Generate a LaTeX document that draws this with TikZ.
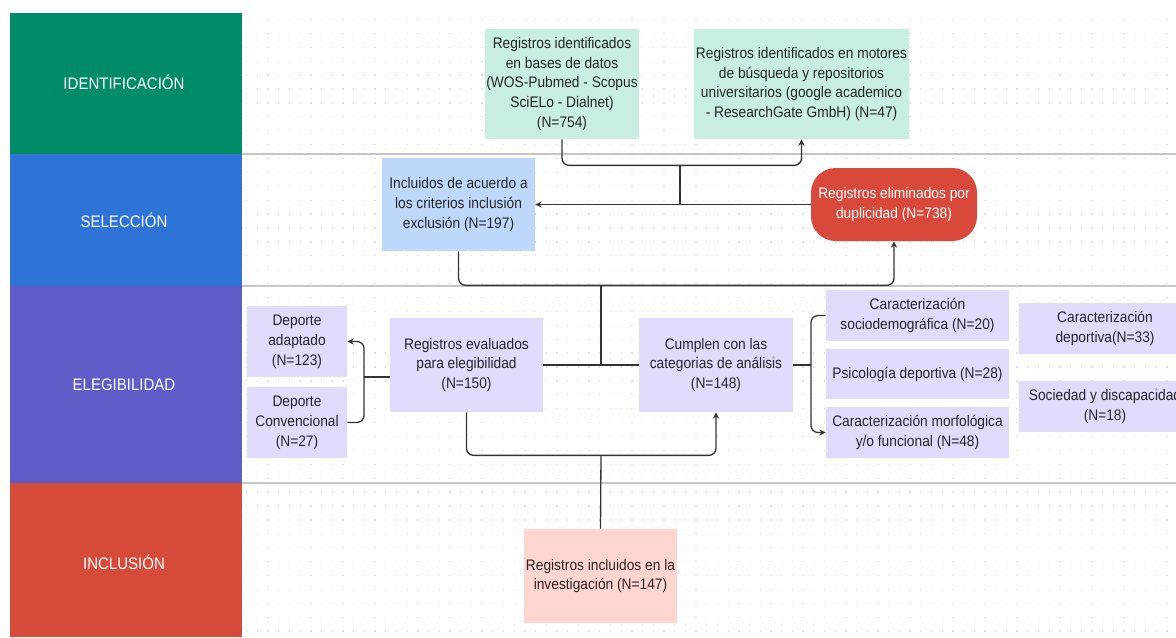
\documentclass[tikz,border=0pt]{standalone}
\usepackage{fontspec}
\setmainfont[FakeStretch=0.9]{Liberation Sans}
\usetikzlibrary{arrows.meta}
\definecolor{idgreen}{HTML}{008C67}
\definecolor{selblue}{HTML}{2E74D7}
\definecolor{elegpurple}{HTML}{5F5BC7}
\definecolor{inclred}{HTML}{D64A3A}
\definecolor{mint}{HTML}{C8EDE3}
\definecolor{skyfill}{HTML}{BDD8FA}
\definecolor{lavender}{HTML}{DEDBFC}
\definecolor{pinkfill}{HTML}{FFD5D0}
\definecolor{elimred}{HTML}{D9493B}
\definecolor{linkgray}{HTML}{333333}
\definecolor{sepgray}{HTML}{C6C6C6}
\definecolor{dotgray}{HTML}{E0E0E0}

\begin{document}
\begin{tikzpicture}[x=0.02cm,y=-0.02cm,
    box/.style={inner sep=0pt, align=center, text=black!85,
      font=\fontsize{8.7}{11.34}\selectfont},
    boxsize/.style 2 args={minimum width=#1*0.02cm, minimum height=#2*0.02cm},
    lanetext/.style={text=white, font=\fontsize{9.5}{11}\selectfont},
    link/.style={draw=linkgray, line width=0.75pt},
    tip/.style={-{Stealth[length=3.6pt,width=3.6pt]}}]
    \useasboundingbox (0,0) rectangle (1176,637);
    \clip (0,0) rectangle (1176,637);
    \fill[white] (0,0) rectangle (1176,637);
    \foreach \i in {0,...,87}
        \foreach \j in {0,...,45}
            \fill[dotgray] (246+\i*10.7,18.8+\j*13.9) rectangle ++(1.3,1.3);
    \fill[idgreen] (10,13) rectangle (242,154);
    \fill[selblue] (10,154) rectangle (242,286);
    \fill[elegpurple] (10,286) rectangle (242,483);
    \fill[inclred] (10,483) rectangle (242,637);
    \draw[sepgray, line width=0.8pt] (242,154) -- (1176,154);
    \draw[sepgray, line width=0.8pt] (242,286) -- (1176,286);
    \draw[sepgray, line width=0.8pt] (242,483) -- (1176,483);
    \node[lanetext] (lid) at (124,82) {IDENTIFICACIÓN};
    \node[lanetext] (lsel) at (124,220) {SELECCIÓN};
    \node[lanetext] (leleg) at (124,385) {ELEGIBILIDAD};
    \node[lanetext] (lincl) at (124,562) {INCLUSIÓN};

    \node[box, fill=mint, boxsize={154}{110}] (db) at (562,84)
        {Registros identificados\\en bases de datos\\(WOS-Pubmed - Scopus\\SciELo - Dialnet)\\(N=754)};
    \node[box, fill=mint, boxsize={215}{110}] (mot) at (801.5,84)
        {Registros identificados en motores\\de búsqueda y repositorios\\universitarios (google academico\\- ResearchGate GmbH) (N=47)};
    \node[box, fill=skyfill, boxsize={153}{93}] (incl) at (458.5,204.5)
        {Incluidos de acuerdo a\\los criterios inclusión\\exclusión (N=197)};
    \node[box, fill=elimred, text=white, rounded corners=14pt, boxsize={166}{73}] (elim) at (894,204.5)
        {Registros eliminados por\\duplicidad (N=738)};
    \node[box, fill=lavender, boxsize={100}{71}] (adapt) at (297,341.5)
        {Deporte\\adaptado\\(N=123)};
    \node[box, fill=lavender, boxsize={100}{71}] (conv) at (297,422.5)
        {Deporte\\Convencional\\(N=27)};
    \node[box, fill=lavender, boxsize={153}{94}] (eval) at (466.5,365)
        {Registros evaluados\\para elegibilidad\\(N=150)};
    \node[box, fill=lavender, boxsize={154}{94}] (cump) at (716,365)
        {Cumplen con las\\categorias de análisis\\(N=148)};
    \node[box, fill=lavender, boxsize={183}{51}] (socio) at (917.5,315.5)
        {Caracterización\\sociodemográfica (N=20)};
    \node[box, fill=lavender, boxsize={183}{50}] (psico) at (917.5,374)
        {Psicología deportiva (N=28)};
    \node[box, fill=lavender, boxsize={183}{51}] (morfo) at (917.5,432.5)
        {Caracterización morfológica\\y/o funcional (N=48)};
    \node[box, fill=lavender, boxsize={172}{51}] (dep) at (1105,328.5)
        {Caracterización\\deportiva(N=33)};
    \node[box, fill=lavender, boxsize={172}{51}] (socd) at (1105,406.5)
        {Sociedad y discapacidad\\(N=18)};
    \node[box, fill=pinkfill, boxsize={153}{94}] (inv) at (600.5,576)
        {Registros incluidos en la\\investigación (N=147)};

    \coordinate (jtop) at (680,165);
    \coordinate (jmid) at (601,285);
    \coordinate (jleft) at (364,377);
    \coordinate (jright) at (811,365);
    \coordinate (jbot) at (601,455);

    \draw[link, tip, rounded corners=4] (db.south) -- ++(0,26) -| (mot.south);
    \draw[link] (jtop) -- (jtop |- incl.east);
    \draw[link, tip] (elim.west) -- (incl.east);
    \draw[link, tip, rounded corners=4] (incl.south) -- ++(0,34) -| (elim.south);
    \draw[link] (jmid) -- (jmid |- eval.east);
    \draw[link] (eval.east) -- (cump.west);
    \draw[link] (eval.west |- jleft) -- (jleft);
    \draw[link, tip, rounded corners=4] (jleft) |- (adapt.east);
    \draw[link, rounded corners=4] (jleft) |- (conv.east);
    \draw[link, tip, rounded corners=4] (eval.south) -- ++(0,43) -| (cump.south);
    \draw[link] (cump.east) -- (jright);
    \draw[link, rounded corners=4] (jright) |- (socio.west);
    \draw[link, tip, rounded corners=4] (jright) |- (morfo.west);
    \draw[link] (jbot) -- (inv.north);
\end{tikzpicture}
\end{document}
